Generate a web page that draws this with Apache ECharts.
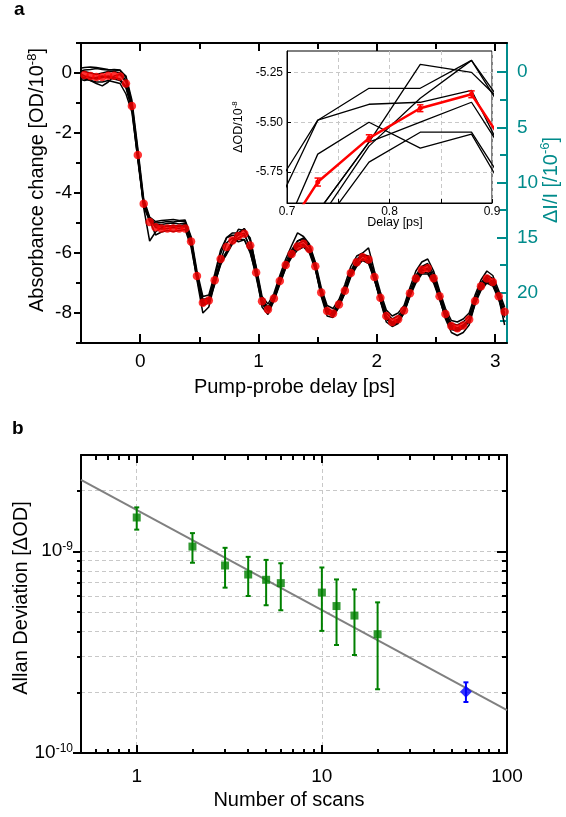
<!DOCTYPE html>
<html>
<head>
<meta charset="utf-8">
<script src="https://cdn.jsdelivr.net/npm/echarts@6.0.0/dist/echarts.min.js"></script>
<style>
  html, body { margin: 0; padding: 0; background: #fff; }
  #main { width: 566px; height: 817px; }
</style>
</head>
<body>
<div id="main"></div>
<script>
// ---- panel a : pump-probe traces ----
// delay grid [ps]
var delays = [-0.52,-0.47,-0.42,-0.37,-0.32,-0.27,-0.22,-0.17,-0.12,-0.07,
  -0.02,0.03,0.08,0.13,0.18,0.23,0.28,0.33,0.38,0.43,
  0.48,0.53,0.58,0.63,0.68,0.73,0.78,0.83,0.88,0.93,
  0.98,1.03,1.08,1.13,1.18,1.23,1.28,1.33,1.38,1.43,
  1.48,1.53,1.58,1.63,1.68,1.73,1.78,1.83,1.88,1.93,
  1.98,2.03,2.08,2.13,2.18,2.23,2.28,2.33,2.38,2.43,
  2.48,2.53,2.58,2.63,2.68,2.73,2.78,2.83,2.88,2.93,
  2.98,3.03,3.08];

// averaged absorbance change [OD/1e-8] (red)
var meanOD = [-0.02,-0.07,-0.10,-0.13,-0.13,-0.09,-0.09,-0.12,-0.35,-1.10,
  -2.73,-4.36,-4.97,-5.14,-5.18,-5.18,-5.18,-5.18,-5.18,-5.62,
  -6.77,-7.66,-7.58,-6.91,-6.20,-5.80,-5.58,-5.43,-5.36,-5.75,
  -6.65,-7.61,-7.88,-7.52,-6.93,-6.40,-6.03,-5.78,-5.69,-5.87,
  -6.44,-7.32,-7.93,-8.02,-7.72,-7.26,-6.67,-6.31,-6.14,-6.22,
  -6.80,-7.49,-8.10,-8.30,-8.21,-7.92,-7.34,-6.85,-6.56,-6.51,
  -6.84,-7.44,-8.03,-8.43,-8.51,-8.42,-8.22,-7.60,-7.11,-6.85,
  -6.97,-7.44,-7.96];

// error of the mean (only visible in the inset)
var meanErr = [0.03,0.03,0.03,0.04,0.04,0.03,0.03,0.03,0.04,0.05,
  0.05,0.04,0.05,0.03,0.03,0.03,0.03,0.03,0.03,0.03,
  0.03,0.04,0.03,0.03,0.03,0.02,0.017,0.017,0.017,0.03,
  0.03,0.03,0.03,0.03,0.03,0.03,0.03,0.03,0.03,0.03,
  0.03,0.03,0.03,0.03,0.03,0.03,0.03,0.03,0.03,0.03,
  0.03,0.03,0.03,0.03,0.03,0.03,0.03,0.03,0.03,0.03,
  0.03,0.03,0.03,0.03,0.03,0.03,0.03,0.03,0.03,0.03,
  0.03,0.03,0.03];

// single scans (black)
var scan1 = [0.15,0.18,0.20,0.18,0.15,0.12,0.10,0.08,-0.10,-0.90,
  -2.50,-4.20,-4.80,-4.95,-4.92,-4.90,-4.88,-4.92,-4.90,-5.45,
  -6.60,-7.45,-7.40,-6.70,-5.90,-5.49,-5.33,-5.33,-5.19,-5.55,
  -6.45,-7.45,-7.70,-7.35,-6.75,-6.20,-5.75,-5.33,-5.45,-5.70,
  -6.30,-7.15,-7.75,-7.85,-7.55,-7.05,-6.45,-6.10,-6.00,-5.83,
  -6.60,-7.30,-7.90,-8.10,-8.00,-7.75,-7.15,-6.60,-6.30,-6.20,
  -6.60,-7.25,-7.85,-8.25,-8.30,-8.20,-8.00,-7.40,-6.90,-6.60,
  -6.75,-7.25,-7.80];
var scan2 = [0.05,0.10,0.12,0.15,0.12,0.10,0.12,0.10,-0.15,-1.00,
  -2.60,-4.30,-4.85,-5.00,-4.98,-4.95,-4.97,-4.93,-4.95,-5.50,
  -6.70,-7.55,-7.50,-6.80,-6.03,-5.49,-5.41,-5.40,-5.34,-5.85,
  -6.60,-7.55,-7.80,-7.45,-6.85,-6.30,-5.90,-5.60,-5.55,-5.75,
  -6.35,-7.25,-7.85,-7.95,-7.65,-7.15,-6.60,-6.20,-6.05,-6.10,
  -6.70,-7.40,-8.00,-8.20,-8.10,-7.85,-7.25,-6.75,-6.45,-6.35,
  -6.70,-7.35,-7.95,-8.35,-8.40,-8.30,-8.10,-7.50,-7.00,-6.75,
  -6.85,-7.35,-7.90];
var scan3 = [-0.10,-0.15,-0.25,-0.35,-0.43,-0.30,-0.10,-0.05,-0.30,-1.10,
  -2.70,-4.35,-4.90,-5.05,-5.05,-5.02,-5.00,-5.03,-5.00,-5.55,
  -6.75,-7.60,-7.55,-6.90,-6.25,-5.66,-5.50,-5.63,-5.56,-6.00,
  -6.70,-7.60,-7.85,-7.50,-6.90,-6.40,-6.00,-5.70,-5.60,-5.80,
  -6.40,-7.30,-7.90,-8.00,-7.70,-7.25,-6.65,-6.30,-6.10,-6.20,
  -6.80,-7.50,-8.10,-8.30,-8.20,-7.90,-7.35,-6.85,-6.55,-6.50,
  -6.85,-7.45,-8.00,-8.40,-8.50,-8.40,-8.20,-7.60,-7.10,-6.85,
  -6.95,-7.45,-8.00];
var scan4 = [0.10,0.05,0.00,-0.05,0.00,0.05,0.05,0.00,-0.25,-1.05,
  -2.75,-4.50,-5.60,-5.30,-5.15,-5.10,-5.08,-5.10,-5.05,-5.60,
  -6.80,-7.65,-7.60,-6.95,-6.30,-5.95,-5.60,-5.21,-5.25,-5.50,
  -6.50,-7.55,-7.85,-7.55,-6.95,-6.45,-6.05,-5.75,-5.70,-5.90,
  -6.45,-7.35,-7.95,-8.00,-7.75,-7.30,-6.70,-6.35,-6.20,-6.25,
  -6.85,-7.55,-8.15,-8.35,-8.25,-7.95,-7.40,-6.90,-6.60,-6.55,
  -6.90,-7.50,-8.05,-8.45,-8.55,-8.45,-8.25,-7.65,-7.15,-6.90,
  -7.00,-7.50,-8.05];
var scan5 = [-0.20,-0.25,-0.20,-0.15,-0.10,-0.15,-0.20,-0.25,-0.50,-1.20,
  -2.90,-4.45,-4.95,-5.10,-5.10,-5.12,-5.08,-5.12,-5.10,-5.70,
  -6.90,-8.00,-7.80,-7.00,-6.40,-6.00,-5.62,-5.38,-5.19,-5.60,
  -6.70,-7.80,-8.05,-7.60,-6.95,-6.40,-6.00,-5.60,-5.50,-5.80,
  -6.50,-7.45,-8.10,-8.15,-7.80,-7.30,-6.65,-6.25,-6.05,-6.15,
  -6.80,-7.60,-8.30,-8.45,-8.35,-8.00,-7.40,-6.85,-6.50,-6.40,
  -6.80,-7.50,-8.20,-8.65,-8.75,-8.65,-8.40,-7.70,-7.10,-6.80,
  -6.95,-7.50,-8.40];
var scan6 = [0.00,-0.10,-0.15,-0.20,-0.15,-0.10,-0.15,-0.20,-0.45,-1.15,
  -2.80,-4.35,-4.85,-5.15,-5.20,-5.18,-5.15,-5.18,-5.12,-5.65,
  -6.80,-7.70,-7.60,-7.00,-6.30,-5.95,-5.60,-5.50,-5.40,-5.80,
  -6.70,-7.65,-7.90,-7.55,-7.00,-6.50,-6.10,-5.80,-5.75,-5.95,
  -6.50,-7.35,-7.95,-8.05,-7.75,-7.30,-6.75,-6.40,-6.20,-6.30,
  -6.90,-7.55,-8.15,-8.35,-8.25,-7.95,-7.40,-6.95,-6.65,-6.65,
  -6.95,-7.50,-8.10,-8.50,-8.55,-8.45,-8.25,-7.65,-7.20,-6.95,
  -7.05,-7.50,-8.10];
var scan7 = [-0.10,-0.20,-0.25,-0.30,-0.30,-0.25,-0.30,-0.35,-0.70,-1.30,
  -2.85,-4.40,-4.90,-5.40,-5.30,-5.25,-5.28,-5.25,-5.22,-5.80,
  -6.85,-7.75,-7.65,-7.05,-6.35,-6.05,-5.70,-5.55,-5.55,-5.95,
  -6.80,-7.70,-7.95,-7.60,-7.05,-6.50,-6.15,-5.90,-5.80,-6.00,
  -6.55,-7.40,-8.00,-8.10,-7.80,-7.35,-6.80,-6.45,-6.25,-6.35,
  -6.90,-7.60,-8.20,-8.40,-8.30,-8.00,-7.45,-7.00,-6.70,-6.70,
  -7.00,-7.55,-8.15,-8.55,-8.60,-8.50,-8.30,-7.70,-7.25,-7.00,
  -7.10,-7.55,-8.15];
var scans = [scan1, scan2, scan3, scan4, scan5, scan6, scan7];

// tick values panel a
var delayMajor = [0, 1, 2, 3];
var delayMinor = [-0.5, 0.5, 1.5, 2.5];
var odMajor = [-8, -6, -4, -2, 0];
var odMinor = [-9, -7, -5, -3, -1, 1];
var diMajor = [0, 5, 10, 15, 20];
var diMinor = [2.5, 7.5, 12.5, 17.5, 22.5];
var insetDelayTicks = [0.7, 0.75, 0.8, 0.85, 0.9];
var insetDelayLabels = [0.7, 0.8, 0.9];
var insetOdTicks = [-5.75, -5.5, -5.25];

// ---- panel b : Allan deviation ----
var scanCounts = [1, 2, 3, 4, 5, 6, 10, 12, 15, 20];
var allanDev  = [1.47e-9, 1.055e-9, 8.5e-10, 7.67e-10, 7.22e-10, 6.95e-10, 6.24e-10, 5.35e-10, 4.8e-10, 3.88e-10];
var allanLow  = [1.28e-9, 8.77e-10, 6.6e-10, 6.0e-10, 5.4e-10, 5.1e-10, 4.03e-10, 3.43e-10, 3.06e-10, 2.07e-10];
var allanHigh = [1.65e-9, 1.23e-9, 1.04e-9, 9.38e-10, 9.06e-10, 8.72e-10, 8.31e-10, 7.25e-10, 6.47e-10, 5.58e-10];
var longCount = [60];
var longDev  = [2.01e-10];
var longLow  = [1.79e-10];
var longHigh = [2.24e-10];
var fitCounts = [0.5, 100];
var fitDev = [2.26e-9, 1.63e-10];

var countMajor = [1, 10, 99.99];
var countMinor = [0.6, 0.7, 0.8, 0.9, 2, 3, 4, 5, 6, 7, 8, 9, 20, 30, 40, 50, 60, 70, 80, 90];
var devMajor = [1.0001e-10, 1e-9];
var devMinor = [2e-10, 3e-10, 4e-10, 5e-10, 6e-10, 7e-10, 8e-10, 9e-10, 2e-9];

var FONT = '"Liberation Sans", Arial, Helvetica, sans-serif';
var TEAL = '#008b8b';
var GRIDLINE = { show: true, lineStyle: { color: '#c8c8c8', width: 1, type: [4, 3] } };

function pairs(xs, ys) {
  var out = [];
  for (var i = 0; i < xs.length; i++) out.push([xs[i], ys[i]]);
  return out;
}
function rows(xs, lo, hi) {
  var out = [];
  for (var i = 0; i < xs.length; i++) out.push([xs[i], lo[i], hi[i]]);
  return out;
}

function axis(base, o) {
  var color = o.color || '#000';
  return Object.assign({}, base, {
    position: o.position,
    axisLine: { show: !!o.line, onZero: false, lineStyle: { color: color, width: o.lineWidth || 2 } },
    axisTick: { show: true, inside: !!o.inside, length: o.len, customValues: o.ticks,
      lineStyle: { color: color, width: o.tickWidth || 2 } },
    axisLabel: o.labels ? {
      show: true, customValues: o.labels, formatter: o.formatter, margin: o.margin,
      color: color, fontSize: o.fontSize || 19, fontFamily: FONT, rich: o.rich
    } : { show: false },
    splitLine: o.split ? GRIDLINE : { show: false },
    splitArea: { show: false },
    minorTick: { show: false },
    minorSplitLine: { show: false }
  });
}

var powRich = {
  b: { fontSize: 19, fontFamily: FONT, color: '#000', lineHeight: 21 },
  s: { fontSize: 12, fontFamily: FONT, color: '#000', lineHeight: 12, verticalAlign: 'top' }
};
function powLabel(v) {
  return '{b|10}{s|' + Math.round(Math.log10(v)) + '}';
}

var xA = { gridIndex: 0, type: 'value', min: -0.5, max: 3.1 };
var xI = { gridIndex: 1, type: 'value', min: 0.7, max: 0.9 };
var xB = { gridIndex: 2, type: 'log', logBase: 10, min: 0.5, max: 100 };
var yA = { gridIndex: 0, type: 'value', min: -9, max: 1 };
var yR = { gridIndex: 0, type: 'value', min: -2.65, max: 24.55, inverse: true };
var yI = { gridIndex: 1, type: 'value', min: -5.905, max: -5.143 };
var yB = { gridIndex: 2, type: 'log', logBase: 10, min: 1e-10, max: 3e-9 };

var xAxes = [
  axis(xA, { position: 'bottom', line: true, ticks: delayMajor, len: 9, inside: true, labels: delayMajor, margin: 9 }),
  axis(xA, { position: 'bottom', ticks: delayMinor, len: 6, inside: true }),
  axis(xA, { position: 'top', line: true, ticks: delayMajor, len: 8, inside: true }),
  axis(xA, { position: 'top', ticks: delayMinor, len: 6, inside: true }),
  axis(xI, { position: 'bottom', line: true, lineWidth: 1, tickWidth: 1, ticks: insetDelayTicks, len: 4, inside: true,
    labels: insetDelayLabels, formatter: function (v) { return v.toFixed(1); }, margin: 3, fontSize: 12, split: true }),
  axis(xB, { position: 'bottom', line: true, ticks: countMajor, len: 8, inside: true, labels: countMajor,
    formatter: function (v) { return String(Math.round(v)); }, margin: 14, split: true }),
  axis(xB, { position: 'bottom', ticks: countMinor, len: 4, inside: true }),
  axis(xB, { position: 'top', line: true, ticks: countMajor, len: 8, inside: true }),
  axis(xB, { position: 'top', ticks: countMinor, len: 5, inside: true })
];

var yAxes = [
  axis(yA, { position: 'left', line: true, ticks: odMajor, len: 7, labels: odMajor, margin: 9 }),
  axis(yA, { position: 'left', ticks: odMinor, len: 5 }),
  axis(yR, { position: 'right', line: true, color: TEAL, ticks: diMajor, len: 10, inside: true, labels: diMajor, margin: 10 }),
  axis(yR, { position: 'right', color: TEAL, ticks: diMinor, len: 7, inside: true }),
  axis(yI, { position: 'left', line: true, lineWidth: 1, tickWidth: 1, ticks: insetOdTicks, len: 4, inside: true,
    labels: insetOdTicks, formatter: function (v) { return v.toFixed(2); }, margin: 4, fontSize: 12, split: true }),
  axis(yB, { position: 'left', line: true, ticks: devMajor, len: 8, labels: devMajor, formatter: powLabel, rich: powRich, margin: 8, split: true }),
  axis(yB, { position: 'left', ticks: devMinor, len: 4, split: true }),
  axis(yB, { position: 'right', line: true, ticks: devMajor, len: 10, inside: true }),
  axis(yB, { position: 'right', ticks: devMinor, len: 5, inside: true })
];

function errorBar(color, capHalf, width) {
  return function (params, api) {
    var x = api.value(0);
    var lo = api.coord([x, api.value(1)]);
    var hi = api.coord([x, api.value(2)]);
    var st = { stroke: color, lineWidth: width, fill: null };
    return {
      type: 'group',
      children: [
        { type: 'line', shape: { x1: lo[0], y1: lo[1], x2: hi[0], y2: hi[1] }, style: st },
        { type: 'line', shape: { x1: lo[0] - capHalf, y1: lo[1], x2: lo[0] + capHalf, y2: lo[1] }, style: st },
        { type: 'line', shape: { x1: hi[0] - capHalf, y1: hi[1], x2: hi[0] + capHalf, y2: hi[1] }, style: st }
      ]
    };
  };
}

var series = [];
// main traces
scans.forEach(function (s) {
  series.push({ type: 'line', xAxisIndex: 0, yAxisIndex: 0, data: pairs(delays, s), symbol: 'none',
    lineStyle: { color: '#000', width: 1.5 }, z: 2, silent: true });
});
series.push({ type: 'scatter', xAxisIndex: 0, yAxisIndex: 0, data: pairs(delays, meanOD), symbol: 'circle',
  symbolSize: 8.5, itemStyle: { color: '#ff0000' }, z: 5, silent: true });
// inset
scans.forEach(function (s) {
  series.push({ type: 'line', xAxisIndex: 4, yAxisIndex: 4, data: pairs(delays, s), symbol: 'none',
    lineStyle: { color: '#000', width: 1.3 }, z: 6, clip: true, silent: true });
});
var errLo = [], errHi = [];
for (var i = 0; i < meanOD.length; i++) { errLo.push(meanOD[i] - meanErr[i]); errHi.push(meanOD[i] + meanErr[i]); }
series.push({ type: 'custom', xAxisIndex: 4, yAxisIndex: 4, data: rows(delays, errLo, errHi),
  renderItem: errorBar('#ff0000', 3.2, 1.5), clip: true, z: 7, silent: true });
series.push({ type: 'line', xAxisIndex: 4, yAxisIndex: 4, data: pairs(delays, meanOD), symbol: 'circle', symbolSize: 5,
  itemStyle: { color: '#ff0000' }, lineStyle: { color: '#ff0000', width: 2.5 }, clip: true, z: 8, silent: true });
// panel b
series.push({ type: 'line', xAxisIndex: 5, yAxisIndex: 5, data: pairs(fitCounts, fitDev), symbol: 'none',
  lineStyle: { color: '#808080', width: 2 }, z: 3, silent: true });
series.push({ type: 'custom', xAxisIndex: 5, yAxisIndex: 5, data: rows(scanCounts, allanLow, allanHigh),
  renderItem: errorBar('#008000', 2.5, 2), z: 4, silent: true });
series.push({ type: 'scatter', xAxisIndex: 5, yAxisIndex: 5, data: pairs(scanCounts, allanDev), symbol: 'rect',
  symbolSize: 8, itemStyle: { color: '#008000' }, z: 5, silent: true });
series.push({ type: 'custom', xAxisIndex: 5, yAxisIndex: 5, data: rows(longCount, longLow, longHigh),
  renderItem: errorBar('#0000ff', 2.5, 2), z: 4, silent: true });
series.push({ type: 'scatter', xAxisIndex: 5, yAxisIndex: 5, data: pairs(longCount, longDev), symbol: 'diamond',
  symbolSize: 12, itemStyle: { color: '#0000ff' }, z: 5, silent: true });

function title(x, y, text, size, color, rot) {
  return {
    type: 'text', x: x, y: y, rotation: rot ? Math.PI / 2 : 0, silent: true,
    style: {
      text: text, fill: color, font: size + 'px ' + FONT,
      align: 'center', verticalAlign: 'middle', textAlign: 'center', textVerticalAlign: 'middle',
      rich: {
        n: { fontSize: size, fontFamily: FONT, fill: color, lineHeight: Math.round(size * 1.2) },
        s: { fontSize: Math.round(size * 0.65), fontFamily: FONT, fill: color, lineHeight: Math.round(size * 0.65), verticalAlign: 'top' }
      }
    }
  };
}
function panelLetter(x, y, t) {
  return { type: 'text', x: x, y: y, silent: true,
    style: { text: t, fill: '#000', font: 'bold 19px ' + FONT, align: 'left', verticalAlign: 'middle',
      textAlign: 'left', textVerticalAlign: 'middle' } };
}

var option = {
  animation: false,
  backgroundColor: '#fff',
  textStyle: { fontFamily: FONT },
  grid: [
    { left: 81, top: 43, width: 426, height: 300, show: false },
    { left: 287, top: 51, width: 205, height: 152, show: true, backgroundColor: '#fff', borderColor: '#000', borderWidth: 1 },
    { left: 81, top: 455, width: 426, height: 298, show: false }
  ],
  xAxis: xAxes,
  yAxis: yAxes,
  series: series,
  graphic: [
    panelLetter(14, 9.5, 'a'),
    panelLetter(12, 429, 'b'),
    title(37.5, 180, '{n|Absorbance change [OD/10}{s|-8}{n|]}', 20, '#000', true),
    title(294.5, 387.5, '{n|Pump-probe delay [ps]}', 20, '#000', false),
    title(551, 180, '{n|\u0394I/I [/10}{s|-6}{n|]}', 20, TEAL, true),
    title(238.5, 127, '{n|\u0394OD/10}{s|-8}', 12.5, '#000', true),
    title(395, 223, '{n|Delay [ps]}', 12.5, '#000', false),
    title(21, 598, '{n|Allan Deviation [\u0394OD]}', 20, '#000', true),
    title(289, 800, '{n|Number of scans}', 20, '#000', false)
  ]
};

var chart = echarts.init(document.getElementById('main'), null, { renderer: 'canvas' });
chart.setOption(option);
</script>
</body>
</html>
